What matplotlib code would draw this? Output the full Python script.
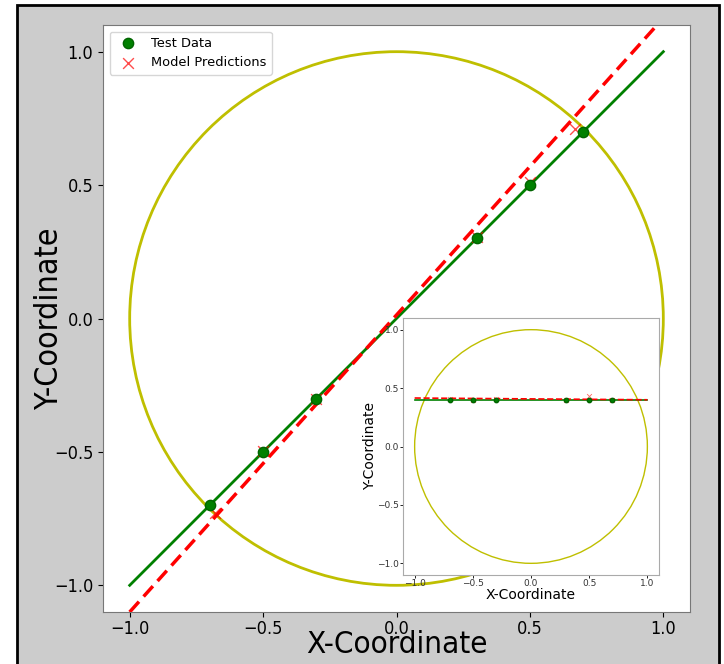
import matplotlib
matplotlib.use("Agg")
import matplotlib.pyplot as plt
import numpy as np
from matplotlib import font_manager as fm
from matplotlib.patches import Rectangle, Circle

# ---------------- data ----------------
test_x = [-0.7, -0.5, -0.3, 0.3, 0.5, 0.7]
test_y = [-0.7, -0.5, -0.3, 0.3, 0.5, 0.7]
pred_x = [-0.68, -0.50, -0.30, 0.30, 0.50, 0.67]
pred_y = [-0.73, -0.495, -0.30, 0.305, 0.51, 0.71]
true_line_x = [-1.0, 1.0]
true_line_y = [-1.0, 1.0]
pred_line_x = [-1.0, 1.0]
pred_line_y = [-1.10, 1.126]

inset_test_x = [-0.7, -0.5, -0.3, 0.3, 0.5, 0.7]
inset_test_y = [0.40, 0.40, 0.40, 0.40, 0.40, 0.40]
inset_pred_x = [-0.7, -0.5, -0.3, 0.3, 0.5, 0.7]
inset_pred_y = [0.41, 0.40, 0.41, 0.40, 0.43, 0.40]
inset_true_line_x = [-1.0, 1.0]
inset_true_line_y = [0.40, 0.40]
inset_pred_line_x = [-1.0, 1.0]
inset_pred_line_y = [0.415, 0.40]

ticks = [-1.0, -0.5, 0.0, 0.5, 1.0]
tick_labels = ["\u22121.0", "\u22120.5", "0.0", "0.5", "1.0"]
circle_radius = 1.0

# ---------------- fonts ----------------
names = {f.name for f in fm.fontManager.ttflist}
cond = [f for f in fm.fontManager.ttflist
        if f.name == "DejaVu Sans" and "condensed" in str(f.stretch)]
if cond:
    big = dict(family="DejaVu Sans", stretch="condensed")
elif "Liberation Sans Narrow" in names:
    big = dict(family="Liberation Sans Narrow")
else:
    big = dict(family="DejaVu Sans")

fig = plt.figure(figsize=(7.24, 6.64), dpi=100)
fig.patch.set_facecolor("white")
bg = Rectangle((17 / 724, -0.05), (719 - 17) / 724, (664 - 5) / 664 + 0.05,
               transform=fig.transFigure, facecolor="#cccccc",
               edgecolor="black", linewidth=2, zorder=-10)
fig.patches.append(bg)

ax = fig.add_axes([103 / 724, 52 / 664, 587 / 724, 587 / 664])
ax.set_facecolor("white")
ax.add_patch(Circle((0, 0), circle_radius, fill=False, edgecolor="#bfbf00",
                    linewidth=2, zorder=1))
ax.plot(true_line_x, true_line_y, color="green", linewidth=2, zorder=2)
ax.plot(pred_line_x, pred_line_y, color="red", linestyle="--",
        linewidth=2.5, dashes=(4, 2), zorder=3)
ax.scatter(pred_x, pred_y, marker="x", color="red", s=60, linewidths=1,
           alpha=0.7, zorder=4, label="Model Predictions")
ax.scatter(test_x, test_y, color="green", edgecolor="darkgreen", s=55,
           zorder=5, label="Test Data")
ax.set_xlim(-1.1, 1.1)
ax.set_ylim(-1.1, 1.1)
ax.set_xticks(ticks)
ax.set_yticks(ticks)
ax.set_xticklabels(tick_labels, fontsize=13, **big)
ax.set_yticklabels(tick_labels, fontsize=13, **big)
ax.tick_params(axis="x", pad=2.5)
ax.set_xlabel("X-Coordinate", fontsize=22.5, labelpad=-6, **big)
ax.set_ylabel("Y-Coordinate", fontsize=23, labelpad=-8, **big)
for s in ax.spines.values():
    s.set_color("#777777")
h, l = ax.get_legend_handles_labels()
ax.legend([h[1], h[0]], [l[1], l[0]], loc="upper left", fontsize=9.4)

ins = fig.add_axes([403 / 724, 89 / 664, 256 / 724, 257 / 664])
ins.set_facecolor("white")
ins.add_patch(Circle((0, 0), circle_radius, fill=False, edgecolor="#bfbf00",
                     linewidth=1, zorder=1))
ins.plot(inset_true_line_x, inset_true_line_y, color="green", linewidth=1.2, zorder=2)
ins.plot(inset_pred_line_x, inset_pred_line_y, color="red", linestyle="--",
         linewidth=1.2, zorder=3)
ins.scatter(inset_pred_x, inset_pred_y, marker="x", color="red", s=12,
            linewidths=0.6, alpha=0.6, zorder=4)
ins.scatter(inset_test_x, inset_test_y, color="green", edgecolor="darkgreen",
            s=10, marker="o", zorder=5)
ins.set_xlim(-1.1, 1.1)
ins.set_ylim(-1.1, 1.1)
ins.set_xticks(ticks)
ins.set_yticks(ticks)
ins.set_xticklabels(tick_labels, fontsize=6.5, color="#333333")
ins.set_yticklabels(tick_labels, fontsize=6.5, color="#333333")
ins.tick_params(length=2, width=0.6, pad=1)
ins.set_xlabel("X-Coordinate", fontsize=10, labelpad=0)
ins.set_ylabel("Y-Coordinate", fontsize=10, labelpad=0)
for s in ins.spines.values():
    s.set_color("#aaaaaa")

fig.savefig("out.png", dpi=100, facecolor=fig.get_facecolor())
